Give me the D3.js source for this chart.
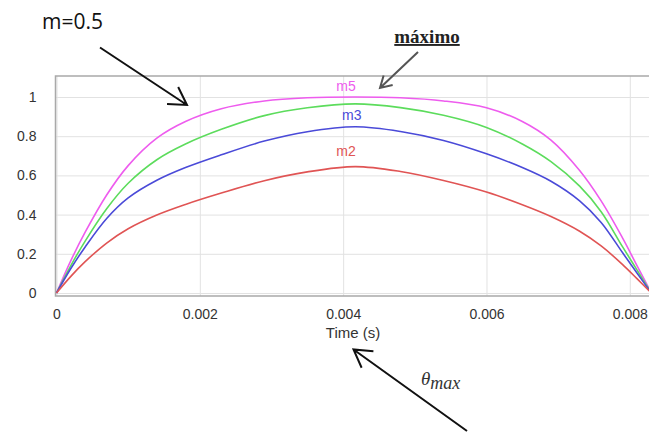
<!DOCTYPE html>
<html>
<head>
<meta charset="utf-8">
<script src="https://cdn.jsdelivr.net/npm/d3@7"></script>
<style>
  body { margin: 0; background: #fff; }
  .axis path { display: none; }
  .grid line { stroke: #e2e2e2; stroke-width: 1px; }
  .tick text { font-family: "Liberation Sans", Arial, sans-serif; font-size: 14px; fill: #333; }
</style>
</head>
<body>
<script>
//Data
var times = [0, 0.0002, 0.0004, 0.0007, 0.001, 0.0014, 0.0018, 0.0023, 0.0029, 0.0035, 0.00417,
             0.0048, 0.0054, 0.006, 0.0065, 0.0069, 0.0073, 0.0076, 0.0079, 0.0081, 0.0083];
var m5 = [0, 0.165, 0.31, 0.50, 0.65, 0.79, 0.875, 0.94, 0.98, 0.996, 1.0,
          0.996, 0.98, 0.945, 0.875, 0.78, 0.625, 0.47, 0.28, 0.14, 0];
var m4 = [0, 0.14, 0.265, 0.43, 0.56, 0.68, 0.76, 0.835, 0.905, 0.945, 0.965,
          0.946, 0.907, 0.845, 0.76, 0.67, 0.545, 0.415, 0.235, 0.118, 0];
var m3 = [0, 0.125, 0.235, 0.38, 0.485, 0.575, 0.64, 0.705, 0.775, 0.823, 0.848,
          0.824, 0.778, 0.71, 0.64, 0.57, 0.47, 0.36, 0.205, 0.102, 0];
var m2 = [0, 0.085, 0.16, 0.255, 0.328, 0.398, 0.452, 0.51, 0.573, 0.618, 0.645,
          0.62, 0.574, 0.515, 0.45, 0.39, 0.315, 0.24, 0.145, 0.073, 0];

var seriesNames = ["m5", "m4", "m3", "m2"];
var seriesColors = ["#ee5cee", "#5cdc5c", "#4a4ad8", "#e05454"];
var seriesLabels = ["m5", "", "m3", "m2"];

var xTicks = [0, 0.002, 0.004, 0.006, 0.008];
var xTickLabels = ["0", "0.002", "0.004", "0.006", "0.008"];
var yTicks = [0, 0.2, 0.4, 0.6, 0.8, 1];
var yTickLabels = ["0", "0.2", "0.4", "0.6", "0.8", "1"];

var margin = {left: 55.5, top: 76},
    width = 649 - margin.left + 20,
    height = 220;

var svg0 = d3.select("body")
    .append("svg")
    .attr("width", 649)
    .attr("height", 432);

var svg = svg0.append("g")
    .attr("transform", "translate(" + margin.left + "," + margin.top + ")");

//Scales
var xScale = d3.scaleLinear()
    .domain([0, 0.008])
    .range([1, 574.3]);

var yScale = d3.scaleLinear()
    .domain([0, 1])
    .range([217, 21]);

//Grid + tick labels
var xAxis = d3.axisBottom(xScale)
    .tickValues(xTicks)
    .tickFormat(function(d, i) { return xTickLabels[i]; })
    .tickSize(-height)
    .tickPadding(13);

var yAxis = d3.axisLeft(yScale)
    .tickValues(yTicks)
    .tickFormat(function(d, i) { return yTickLabels[i]; })
    .tickSize(-width)
    .tickPadding(19);

svg.append("g")
    .attr("class", "x axis grid")
    .attr("transform", "translate(0," + height + ")")
    .call(xAxis);

svg.append("g")
    .attr("class", "y axis grid")
    .call(yAxis);

//Frame
svg.append("path")
    .attr("d", "M" + (width) + ",0H0V" + height + "H" + width)
    .attr("fill", "none")
    .attr("stroke", "#a9a9a9")
    .attr("stroke-width", 1.5);

//Axis title
svg0.append("text")
    .attr("x", 353)
    .attr("y", 338)
    .attr("text-anchor", "middle")
    .attr("font-family", "Liberation Sans, Arial, sans-serif")
    .attr("font-size", "15px")
    .attr("fill", "#333")
    .text("Time (s)");

//Curves
var line = d3.line()
    .x(function(d) { return xScale(d[0]); })
    .y(function(d) { return yScale(d[1]); })
    .curve(d3.curveCatmullRom.alpha(0.5));

var allSeries = [m5, m4, m3, m2];
allSeries.forEach(function(vals, k) {
    svg.append("path")
        .datum(times.map(function(t, i) { return [t, vals[i]]; }))
        .attr("class", "curve " + seriesNames[k])
        .attr("fill", "none")
        .attr("stroke", seriesColors[k])
        .attr("stroke-width", 1.6)
        .attr("d", line);
});

//Curve labels
var labelPos = [[0.00404, 1.03], null, [0.00412, 0.884], [0.00404, 0.7]];
seriesLabels.forEach(function(lab, k) {
    if (!lab) return;
    svg.append("text")
        .attr("x", xScale(labelPos[k][0]))
        .attr("y", yScale(labelPos[k][1]))
        .attr("text-anchor", "middle")
        .attr("font-family", "Liberation Sans, Arial, sans-serif")
        .attr("font-size", "14px")
        .attr("fill", seriesColors[k])
        .text(lab);
});

//Arrows
function arrow(x1, y1, x2, y2, len, color, w) {
    var a = Math.atan2(y2 - y1, x2 - x1);
    var h1 = [x2 - len * Math.cos(a - 0.53), y2 - len * Math.sin(a - 0.53)];
    var h2 = [x2 - len * Math.cos(a + 0.53), y2 - len * Math.sin(a + 0.53)];
    svg0.append("path")
        .attr("d", "M" + x1 + "," + y1 + "L" + x2 + "," + y2 +
              "M" + h1[0] + "," + h1[1] + "L" + x2 + "," + y2 + "L" + h2[0] + "," + h2[1])
        .attr("fill", "none")
        .attr("stroke", color)
        .attr("stroke-width", w);
}

arrow(100, 47.5, 187, 105, 20, "#111", 2);
arrow(418, 52, 380, 88, 13, "#555", 2);
arrow(467, 431, 353.5, 349.5, 20, "#111", 2);

//Annotations
svg0.append("text")
    .attr("x", 42)
    .attr("y", 29)
    .attr("font-family", "Open Sans, sans-serif")
    .attr("font-size", "21px")
    .attr("fill", "#111")
    .text("m=0.5");

svg0.append("text")
    .attr("x", 427)
    .attr("y", 43)
    .attr("text-anchor", "middle")
    .attr("font-family", "Liberation Serif, serif")
    .attr("font-weight", "bold")
    .attr("font-size", "19px")
    .attr("text-decoration", "underline")
    .attr("fill", "#222")
    .text("máximo");

var theta = svg0.append("text")
    .attr("x", 421)
    .attr("y", 385)
    .attr("font-family", "Liberation Serif, serif")
    .attr("font-style", "italic")
    .attr("fill", "#333");
theta.append("tspan").attr("font-size", "19px").text("θ");
theta.append("tspan").attr("font-size", "18px").attr("dy", 4).text("max");
</script>
</body>
</html>
